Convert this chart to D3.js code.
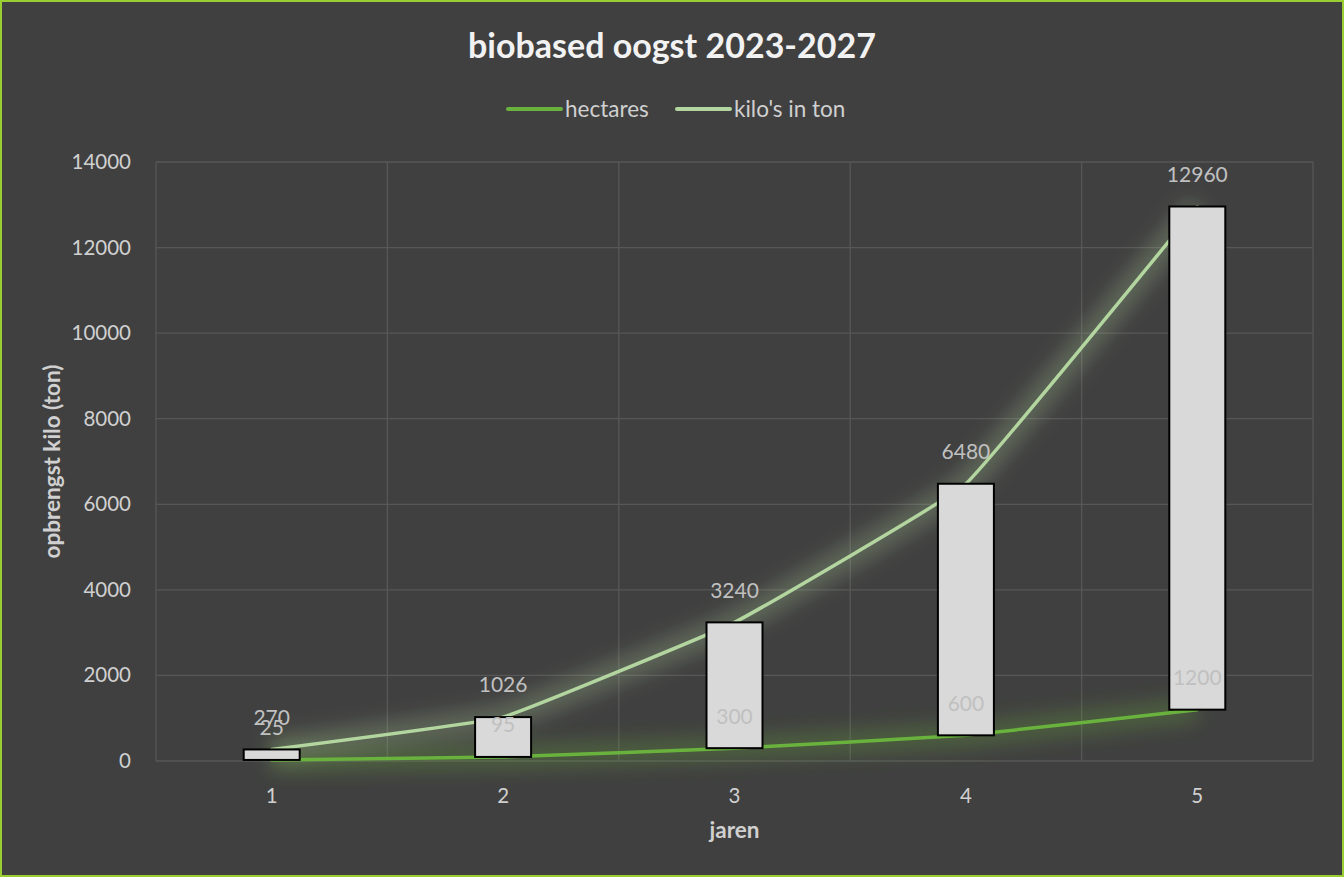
<!DOCTYPE html>
<html>
<head>
<meta charset="utf-8">
<script src="https://cdn.jsdelivr.net/npm/d3@7"></script>
<style>
  html, body { margin: 0; padding: 0; background: #404040; }
  svg { display: block; font-family: Lato, "Open Sans", sans-serif; }
</style>
</head>
<body>
<script>
// biobased oogst chart - two smoothed lines with up/down bars between them

const years = ["1", "2", "3", "4", "5"];
const hectares = [25, 95, 300, 600, 1200];
const kilos = [270, 1026, 3240, 6480, 12960];
const yTicks = [0, 2000, 4000, 6000, 8000, 10000, 12000, 14000];
const seriesNames = ["hectares", "kilo's in ton"];

const width = 1344, height = 877;
const margin = {top: 162, right: 31, bottom: 116, left: 156};

const svg = d3.select('body').append('svg')
  .attr('width', width)
  .attr('height', height);

// glow filter
const defs = svg.append('defs');
const glow = defs.append('filter')
  .attr('id', 'glow')
  .attr('x', '-20%').attr('y', '-50%')
  .attr('width', '140%').attr('height', '200%');
glow.append('feGaussianBlur')
  .attr('stdDeviation', 10);

// background + border
svg.append('rect')
  .attr('x', 1).attr('y', 1)
  .attr('width', width - 2).attr('height', height - 2)
  .attr('fill', '#404040')
  .attr('stroke', '#9acd32')
  .attr('stroke-width', 2);

const xScale = d3.scaleBand()
  .domain(years)
  .range([margin.left, width - margin.right]);
const yScale = d3.scaleLinear()
  .domain([0, 14000])
  .range([height - margin.bottom, margin.top]);
const cx = d => xScale(d) + xScale.bandwidth() / 2;

// gridlines
svg.append('g')
  .selectAll('line')
  .data(yTicks)
  .enter().append('line')
  .attr('x1', margin.left).attr('x2', width - margin.right)
  .attr('y1', d => yScale(d)).attr('y2', d => yScale(d))
  .attr('stroke', '#575757')
  .attr('stroke-width', 1.3);
const bounds = years.map(d => xScale(d)).concat([width - margin.right]);
svg.append('g')
  .selectAll('line')
  .data(bounds)
  .enter().append('line')
  .attr('x1', d => d).attr('x2', d => d)
  .attr('y1', margin.top).attr('y2', yScale(0))
  .attr('stroke', '#575757')
  .attr('stroke-width', 1.3);

// axes
const yAxis = svg.append('g')
  .attr('transform', `translate(${margin.left - 22},0)`)
  .call(d3.axisLeft(yScale).tickValues(yTicks).tickSize(0).tickFormat(d3.format('d')));
yAxis.select('.domain').remove();
yAxis.selectAll('text')
  .attr('fill', '#d0d0d0')
  .attr('font-size', 20.5)
  .attr('font-family', 'Lato, sans-serif');

const xAxis = svg.append('g')
  .attr('transform', `translate(0,${yScale(0) + 22})`)
  .call(d3.axisBottom(xScale).tickSize(0));
xAxis.select('.domain').remove();
xAxis.selectAll('text')
  .attr('fill', '#d0d0d0')
  .attr('font-size', 20.5)
  .attr('dy', '0.85em')
  .attr('font-family', 'Lato, sans-serif');

// lines
const colors = ['#6ab23e', '#b3d59f'];
const line = d3.line()
  .x((d, i) => cx(years[i]))
  .y(d => yScale(d))
  .curve(d3.curveCardinal.tension(0.75));

[hectares, kilos].forEach((s, k) => {
  svg.append('path')
    .attr('d', line(s))
    .attr('fill', 'none')
    .attr('stroke', colors[k])
    .attr('stroke-width', 24)
    .attr('stroke-opacity', 0.28)
    .attr('filter', 'url(#glow)');
});
[hectares, kilos].forEach((s, k) => {
  svg.append('path')
    .attr('d', line(s))
    .attr('fill', 'none')
    .attr('stroke', colors[k])
    .attr('stroke-width', 3.5)
    .attr('stroke-linecap', 'round');
});

// up/down bars
const barW = 56;
svg.append('g')
  .selectAll('rect')
  .data(years)
  .enter().append('rect')
  .attr('x', d => cx(d) - barW / 2)
  .attr('y', (d, i) => yScale(Math.max(hectares[i], kilos[i])))
  .attr('width', barW)
  .attr('height', (d, i) => Math.abs(yScale(hectares[i]) - yScale(kilos[i])))
  .attr('fill', '#d9d9d9')
  .attr('stroke', '#000')
  .attr('stroke-width', 2);

// data labels
[hectares, kilos].forEach(s => {
  svg.append('g')
    .selectAll('text')
    .data(s)
    .enter().append('text')
    .attr('x', (d, i) => cx(years[i]))
    .attr('y', d => yScale(d) - 32)
    .attr('dy', '0.35em')
    .attr('text-anchor', 'middle')
    .attr('fill', '#c0c0c0')
    .attr('font-size', 21)
    .text(d => d);
});

// title
svg.append('text')
  .attr('x', width / 2).attr('y', 46)
  .attr('dy', '0.35em')
  .attr('text-anchor', 'middle')
  .attr('fill', '#f2f2f2')
  .attr('font-size', 34)
  .attr('font-weight', 'bold')
  .text('biobased oogst 2023-2027');

// legend
const legX = [508, 677];
seriesNames.forEach((name, k) => {
  svg.append('line')
    .attr('x1', legX[k]).attr('x2', legX[k] + 53)
    .attr('y1', 109).attr('y2', 109)
    .attr('stroke', colors[k])
    .attr('stroke-width', 4)
    .attr('stroke-linecap', 'round');
  svg.append('text')
    .attr('x', legX[k] + 57).attr('y', 109)
    .attr('dy', '0.35em')
    .attr('fill', '#d0d0d0')
    .attr('font-size', 22.5)
    .text(name);
});

// axis titles
svg.append('text')
  .attr('transform', `translate(52,${(margin.top + yScale(0)) / 2}) rotate(-90)`)
  .attr('dy', '0.35em')
  .attr('text-anchor', 'middle')
  .attr('fill', '#d0d0d0')
  .attr('font-size', 22.5)
  .attr('font-weight', 'bold')
  .text('opbrengst kilo (ton)');
svg.append('text')
  .attr('x', cx('3')).attr('y', 830)
  .attr('dy', '0.35em')
  .attr('text-anchor', 'middle')
  .attr('fill', '#d0d0d0')
  .attr('font-size', 22.5)
  .attr('font-weight', 'bold')
  .text('jaren');
</script>
</body>
</html>
